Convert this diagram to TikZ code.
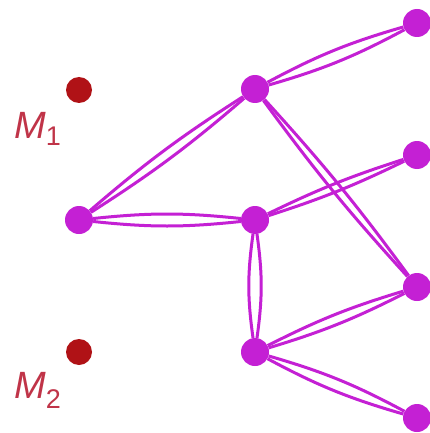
\documentclass[tikz,border=0pt]{standalone}
\usepackage{fontspec}
\setmainfont{Liberation Sans}
\definecolor{mag}{RGB}{196,32,212}
\definecolor{dotred}{RGB}{176,18,22}
\definecolor{labred}{RGB}{192,52,72}
\begin{document}
\begin{tikzpicture}[x=1pt,y=-1pt,
  vert/.style={circle,fill=mag,inner sep=0pt,minimum size=28pt},
  mass/.style={circle,fill=dotred,inner sep=0pt,minimum size=26pt},
  edge/.style={draw=mag,line width=3pt},
  lab/.style={anchor=base west,inner sep=0pt,text=labred}]
\useasboundingbox[fill=white] (0,0) rectangle (430,433);
\node[mass] (m1) at (79,90) {};
\node[mass] (m2) at (79,352) {};
\node[lab] (l1) at (14,138) {\fontsize{38}{38}\selectfont\itshape M\raisebox{-7pt}{\fontsize{27}{27}\selectfont\upshape 1}};
\node[lab] (l2) at (14,398) {\fontsize{38}{38}\selectfont\itshape M\raisebox{-10pt}{\fontsize{27}{27}\selectfont\upshape 2}};
\node[vert] (A) at (79,220) {};
\node[vert] (B) at (255,89) {};
\node[vert] (C) at (255,220) {};
\node[vert] (D) at (255,352) {};
\node[vert] (E1) at (417,23) {};
\node[vert] (E2) at (417,155) {};
\node[vert] (E3) at (417,287) {};
\node[vert] (E4) at (417,418) {};
\foreach \u/\v/\b in {A/B/4,A/C/6,B/E1/6,B/E3/3,C/E2/4,C/D/8,D/E3/5,D/E4/6}{
  \draw[edge] (\u) to[bend left=\b] (\v);
  \draw[edge] (\u) to[bend right=\b] (\v);
}
\end{tikzpicture}
\end{document}
